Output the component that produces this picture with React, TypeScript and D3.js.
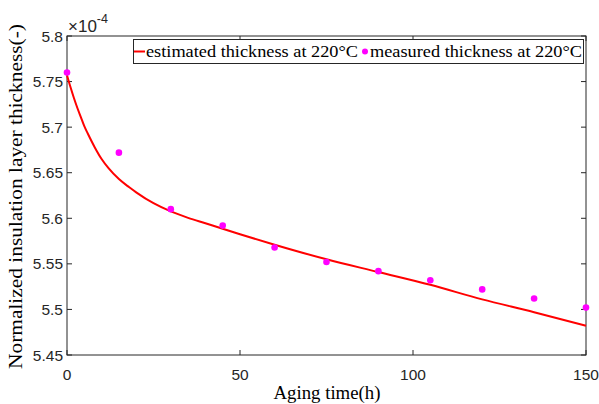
import React from "react";
import * as d3 from "d3";

const measuredTime = [0, 15, 30, 45, 60, 75, 90, 105, 120, 135, 150];
const measuredThickness = [5.76, 5.672, 5.61, 5.592, 5.568, 5.552, 5.542, 5.532, 5.522, 5.512, 5.502];

const estimatedTime = [0, 1, 2, 3, 4, 5, 6, 8, 10, 12, 15, 18, 20, 25, 30, 35, 40, 45, 50, 60, 75, 90, 105, 120, 135, 150];
const estimatedThickness = [
  5.757, 5.744, 5.732, 5.721, 5.711, 5.701, 5.693, 5.678, 5.665, 5.655, 5.643, 5.634, 5.6285, 5.6165, 5.6075,
  5.6005, 5.5945, 5.5885, 5.5825, 5.571, 5.555, 5.541, 5.527, 5.511, 5.497, 5.482,
];

const xTicks = [0, 50, 100, 150];
const yTicks = [5.45, 5.5, 5.55, 5.6, 5.65, 5.7, 5.75, 5.8];

const W = 599;
const H = 404;
const M = { left: 67, right: 586, top: 36, bottom: 355 };
const serif = "'Liberation Serif', 'Times New Roman', serif";
const sans = "'Liberation Sans', Arial, sans-serif";
const axisColor = "#262626";

export default function App() {
  const x = d3.scaleLinear().domain([0, 150]).range([M.left, M.right]);
  const y = d3.scaleLinear().domain([5.45, 5.8]).range([M.bottom, M.top]);
  const line = d3
    .line<number>()
    .x((_, i) => x(estimatedTime[i]))
    .y((d) => y(d))
    .curve(d3.curveMonotoneX);
  const fmtY = (v: number) => String(+v.toFixed(2));

  return (
    <svg width={W} height={H} style={{ position: "absolute", left: 0, top: 0, background: "#fff" }}>
      <rect x={0} y={0} width={W} height={H} fill="#fff" />
      {/* ticks */}
      {xTicks.map((t) => (
        <g key={"xt" + t}>
          <line x1={x(t)} x2={x(t)} y1={M.bottom} y2={M.bottom - 5} stroke={axisColor} strokeWidth={1} />
          <line x1={x(t)} x2={x(t)} y1={M.top} y2={M.top + 5} stroke={axisColor} strokeWidth={1} />
          <text x={x(t)} y={M.bottom + 25} textAnchor="middle" fontFamily={sans} fontSize={15.5} fill={axisColor}>
            {t}
          </text>
        </g>
      ))}
      {yTicks.map((t) => (
        <g key={"yt" + t}>
          <line x1={M.left} x2={M.left + 5} y1={y(t)} y2={y(t)} stroke={axisColor} strokeWidth={1} />
          <line x1={M.right} x2={M.right - 5} y1={y(t)} y2={y(t)} stroke={axisColor} strokeWidth={1} />
          <text x={M.left - 4} y={y(t) + 5.5} textAnchor="end" fontFamily={sans} fontSize={15.5} fill={axisColor}>
            {fmtY(t)}
          </text>
        </g>
      ))}
      {/* frame */}
      <rect x={M.left} y={M.top} width={M.right - M.left} height={M.bottom - M.top} fill="none" stroke={axisColor} strokeWidth={1} />
      {/* exponent */}
      <text x={M.left + 1} y={32} fontFamily={sans} fontSize={17} fill={axisColor}>
        ×10
        <tspan dy={-9} fontSize={12.5}>-4</tspan>
      </text>
      {/* estimated line */}
      <path d={line(estimatedThickness) || ""} fill="none" stroke="#ff0000" strokeWidth={2} />
      {/* measured dots */}
      {measuredThickness.map((v, i) => (
        <circle key={"m" + i} cx={x(measuredTime[i])} cy={y(v)} r={3.3} fill="#ff00ff" />
      ))}
      {/* legend */}
      <rect x={133.5} y={39.5} width={450} height={24} fill="#fff" stroke={axisColor} strokeWidth={1} />
      <line x1={134} x2={145} y1={51.5} y2={51.5} stroke="#ff0000" strokeWidth={2} />
      <text x={146} y={57} fontFamily={serif} fontSize={17} textLength={212} lengthAdjust="spacingAndGlyphs" fill="#000">
        estimated thickness at 220°C
      </text>
      <circle cx={365} cy={51.5} r={3} fill="#ff00ff" />
      <text x={370} y={57} fontFamily={serif} fontSize={17} textLength={212} lengthAdjust="spacingAndGlyphs" fill="#000">
        measured thickness at 220°C
      </text>
      {/* axis labels */}
      <text
        x={(M.left + M.right) / 2 - 53}
        y={399}
        fontFamily={serif}
        fontSize={18}
        textLength={107}
        lengthAdjust="spacingAndGlyphs"
        fill="#000"
      >
        Aging time(h)
      </text>
      <text
        transform={`translate(22, 369) rotate(-90)`}
        fontFamily={serif}
        fontSize={18}
        textLength={345}
        lengthAdjust="spacingAndGlyphs"
        fill="#000"
      >
        Normalized insulation layer thickness(-)
      </text>
    </svg>
  );
}
